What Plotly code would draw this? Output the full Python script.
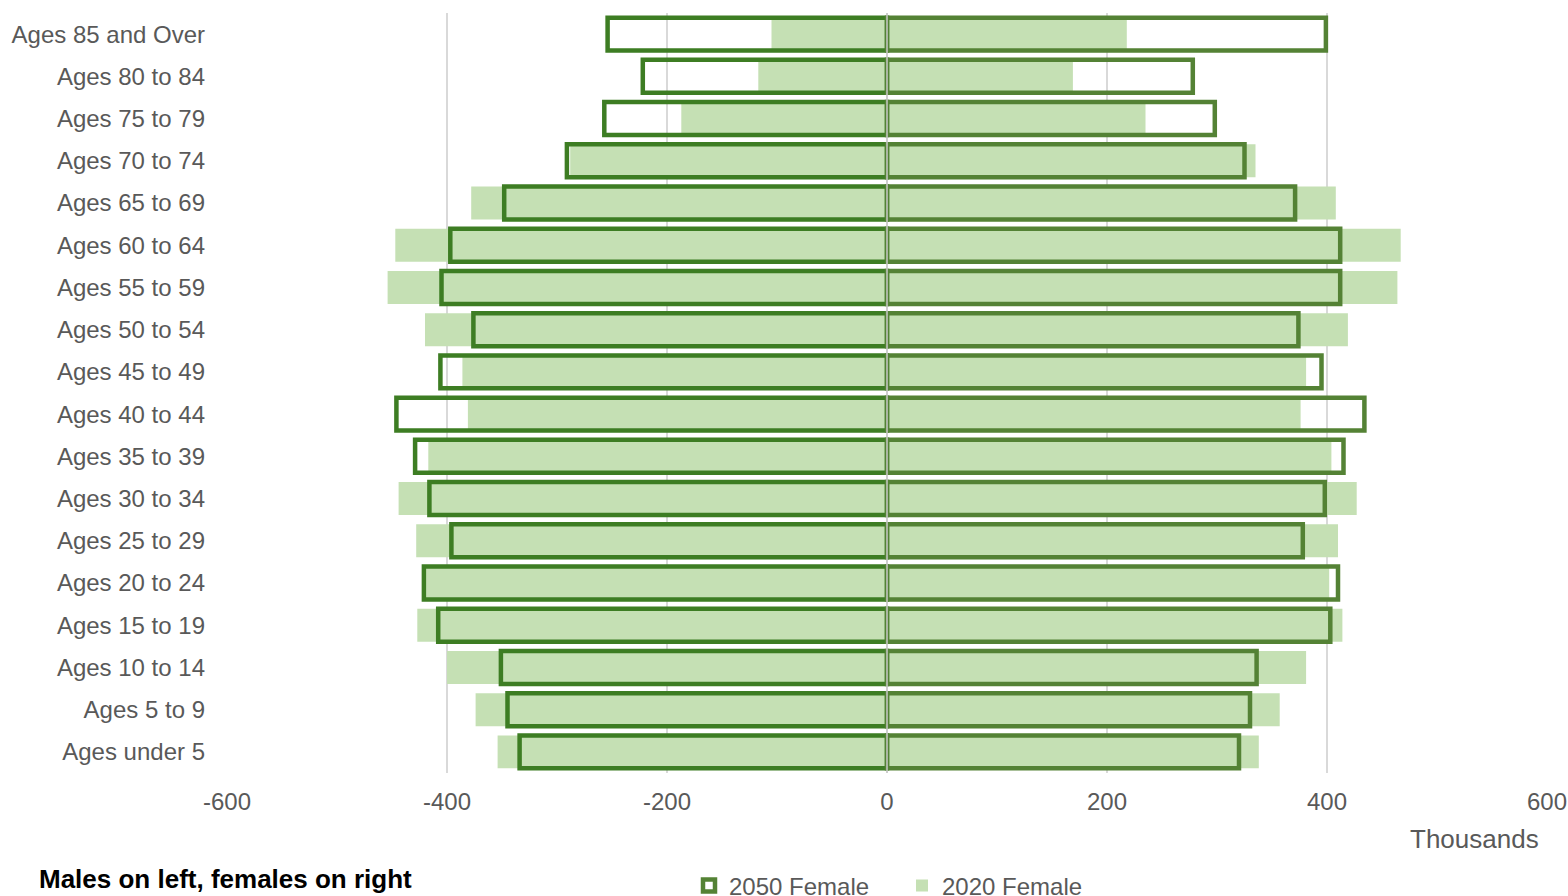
import plotly.graph_objects as go

ages = ["Ages 85 and Over", "Ages 80 to 84", "Ages 75 to 79", "Ages 70 to 74",
        "Ages 65 to 69", "Ages 60 to 64", "Ages 55 to 59", "Ages 50 to 54",
        "Ages 45 to 49", "Ages 40 to 44", "Ages 35 to 39", "Ages 30 to 34",
        "Ages 25 to 29", "Ages 20 to 24", "Ages 15 to 19", "Ages 10 to 14",
        "Ages 5 to 9", "Ages under 5"]

male_2020 = [-105, -117, -187, -288, -378, -447, -454, -420, -386, -381,
             -417, -444, -428, -419, -427, -400, -374, -354]
female_2020 = [218, 169, 235, 335, 408, 467, 464, 419, 381, 376,
               404, 427, 410, 402, 414, 381, 357, 338]
male_2050 = [-254, -222, -257, -291, -348, -397, -405, -376, -406, -446,
             -429, -416, -396, -421, -408, -351, -345, -334]
female_2050 = [399, 278, 298, 325, 371, 412, 412, 374, 395, 434,
               415, 398, 378, 410, 403, 336, 330, 320]

FILL = "#c5e0b4"
MALE_LINE = "#3d7d23"
FEMALE_LINE = "#548235"
FONT = "Liberation Sans, Arial, sans-serif"
GRAY = "#595959"

fig = go.Figure()
fig.add_trace(go.Bar(y=ages, x=male_2020, orientation="h", name="2020 Male",
                     marker=dict(color=FILL, line=dict(width=0)), showlegend=False))
fig.add_trace(go.Bar(y=ages, x=female_2020, orientation="h", name="2020 Female",
                     marker=dict(color=FILL, line=dict(width=0)), legendrank=2))
fig.add_trace(go.Bar(y=ages, x=male_2050, orientation="h", name="2050 Male",
                     marker=dict(color="rgba(255,255,255,0)",
                                 line=dict(color=MALE_LINE, width=4.5)),
                     showlegend=False))
fig.add_trace(go.Bar(y=ages, x=female_2050, orientation="h", name="2050 Female",
                     marker=dict(color="rgba(255,255,255,0)",
                                 line=dict(color=FEMALE_LINE, width=4.5)),
                     legendrank=1))

W, H = 1568, 896
L, R, T, B = 227, 21, 13, 123
pw, ph = W - L - R, H - T - B

def px(x):
    return (x - L) / pw

def py(y):
    return (H - B - y) / ph

fig.update_layout(
    width=W, height=H,
    margin=dict(l=L, r=R, t=T, b=B, autoexpand=False),
    paper_bgcolor="white", plot_bgcolor="white",
    barmode="overlay", bargap=0.22,
    font=dict(family=FONT, size=24, color=GRAY),
    xaxis=dict(range=[-600, 600], tickvals=[-600, -400, -200, 0, 200, 400, 600],
               ticktext=["-600", "-400", "-200", "0", "200", "400", "600"],
               showgrid=True, gridcolor="#d9d9d9", gridwidth=1.5,
               zeroline=False, showline=False, ticks="",
               tickfont=dict(size=24, color=GRAY), ticklabelstandoff=12),
    yaxis=dict(autorange="reversed", showgrid=False, zeroline=False, showline=False,
               ticks="", tickfont=dict(size=24, color=GRAY), ticklabelstandoff=21),
    legend=dict(orientation="h", x=px(689), xanchor="left", y=py(886), yanchor="middle",
                font=dict(size=24, color=GRAY), bgcolor="rgba(0,0,0,0)",
                itemwidth=30, entrywidth=168),
    shapes=[dict(type="line", xref="x", yref="paper", x0=0, x1=0, y0=0, y1=1,
                 line=dict(color="#c8c8c8", width=1.5), layer="above")],
    annotations=[
        dict(text="Thousands", xref="paper", yref="paper", x=px(1541), y=py(839),
             xanchor="right", yanchor="middle", showarrow=False,
             font=dict(size=26, color=GRAY, family=FONT)),
        dict(text="<b>Males on left, females on right</b>", xref="paper", yref="paper",
             x=px(37), y=py(879), xanchor="left", yanchor="middle", showarrow=False,
             font=dict(size=26, color="black", family=FONT)),
    ],
)

fig.write_html(
    "out.html",
    config={"displayModeBar": False},
    post_script="document.body.style.margin='0';document.body.style.overflow='hidden';",
)
